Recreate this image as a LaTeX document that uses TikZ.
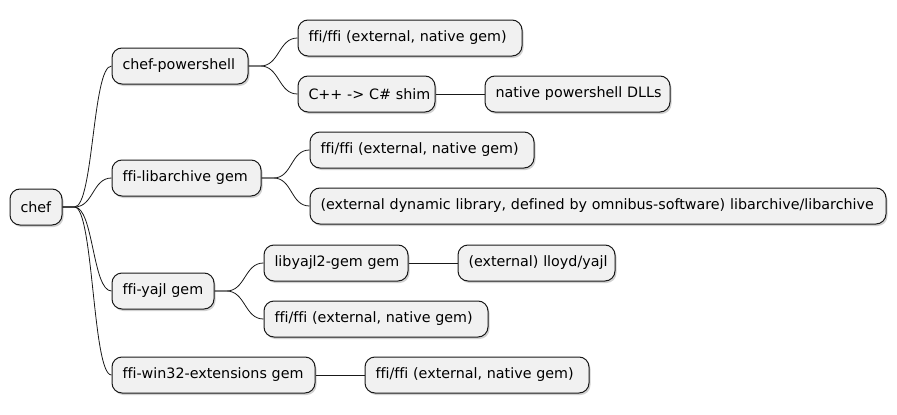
\documentclass[tikz,border=0pt]{standalone}
\usepackage{fontspec}
\setmainfont{DejaVu Sans}[Ligatures=NoCommon]
\usetikzlibrary{shadows}
\tikzset{
  mbox/.style={draw=black!90, line width=1pt, fill=black!5.5, rounded corners=10pt,
    minimum height=36pt, inner xsep=10.5pt, inner ysep=0pt, align=left,
    font=\fontsize{14.3}{16}\selectfont,
    drop shadow={shadow xshift=1.5pt, shadow yshift=-2pt, opacity=0.18, fill=black}},
  link/.style={draw=black!90, line width=0.8pt}
}
\newcommand\curvelink[2]{\draw[link] (#1.east) -- ++(12,0) .. controls +(19,0) and +(-19,0) .. (#2.west);}
\newcommand\straightlink[2]{\draw[link] (#1.east) -- (#2.west);}
\begin{document}
\begin{tikzpicture}[x=1pt,y=-1pt]
\useasboundingbox (0,0) rectangle (897,415);
\node[mbox, text width=31pt] (chef) at (36,207) {\mbox{chef}};
\node[mbox, text width=115pt] (cp) at (180,66) {\mbox{chef-powershell}};
\node[mbox, text width=203pt] (f1) at (410,38) {\mbox{ffi/ffi (external, native gem)}};
\node[mbox, text width=116pt] (shim) at (366.5,94) {\mbox{C++ -> C\# shim}};
\node[mbox, text width=164pt] (dll) at (577.5,94) {\mbox{native powershell DLLs}};
\node[mbox, text width=128pt] (lib) at (186.5,178) {\mbox{ffi-libarchive gem}};
\node[mbox, text width=203pt] (f2) at (422,150) {\mbox{ffi/ffi (external, native gem)}};
\node[mbox, text width=555pt] (ext) at (598,206) {\mbox{(external dynamic library, defined by omnibus-software) libarchive/libarchive}};
\node[mbox, text width=81pt] (yajl) at (163,291) {\mbox{ffi-yajl gem}};
\node[mbox, text width=123pt] (l2) at (336,263) {\mbox{libyajl2-gem gem}};
\node[mbox, text width=136pt] (lloyd) at (536.5,263) {\mbox{(external) lloyd/yajl}};
\node[mbox, text width=203pt] (f3) at (376,319) {\mbox{ffi/ffi (external, native gem)}};
\node[mbox, text width=182pt] (win) at (213.5,375) {\mbox{ffi-win32-extensions gem}};
\node[mbox, text width=203pt] (f4) at (477,375) {\mbox{ffi/ffi (external, native gem)}};
\curvelink{chef}{cp}
\curvelink{chef}{lib}
\curvelink{chef}{yajl}
\curvelink{chef}{win}
\curvelink{cp}{f1}
\curvelink{cp}{shim}
\straightlink{shim}{dll}
\curvelink{lib}{f2}
\curvelink{lib}{ext}
\curvelink{yajl}{l2}
\curvelink{yajl}{f3}
\straightlink{l2}{lloyd}
\straightlink{win}{f4}
\end{tikzpicture}
\end{document}
